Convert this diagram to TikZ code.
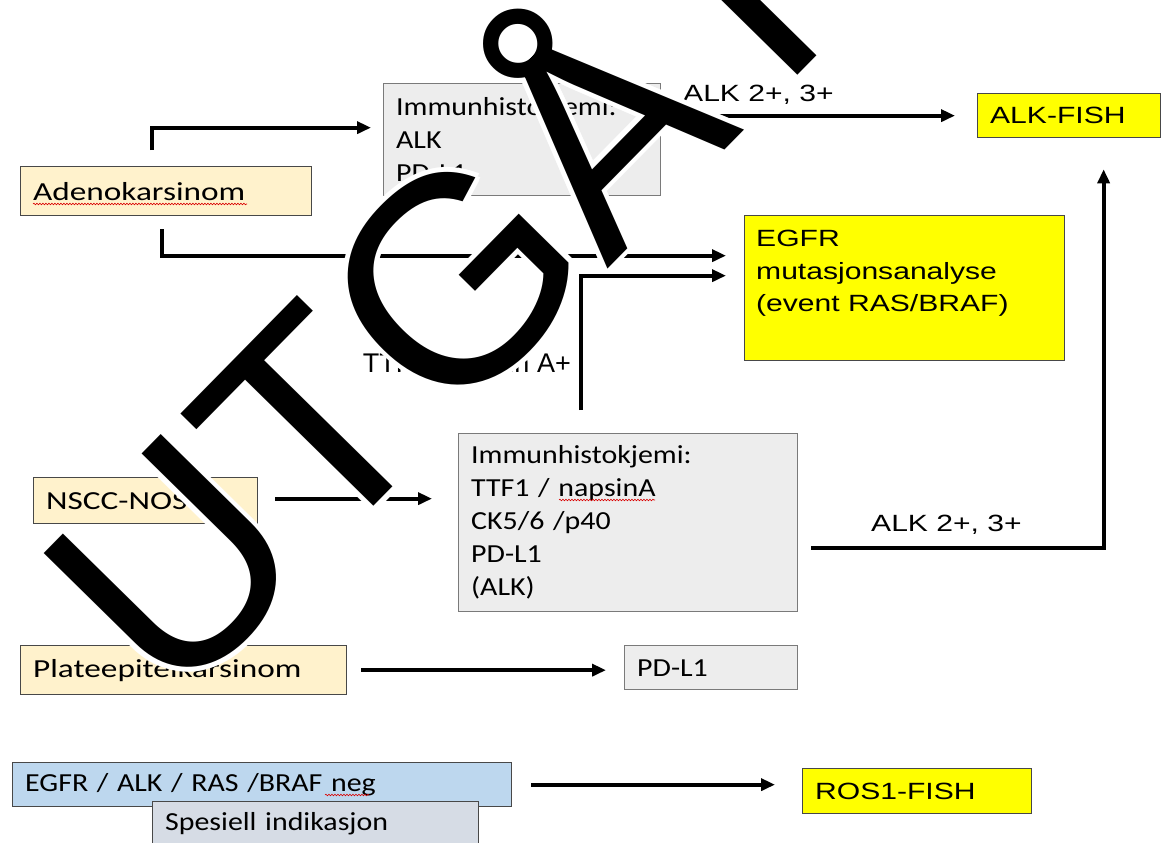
\documentclass[tikz,border=0pt]{standalone}
\usepackage{fontspec}
\setmainfont{Carlito}[FakeStretch=1.28]
\newfontfamily\kalibrismal{Carlito}[FakeStretch=1.15]
\newfontfamily\arial{Liberation Sans}[FakeStretch=1.28]
\newfontfamily\arialrett{Liberation Sans}
\usetikzlibrary{arrows.meta,calc,positioning,decorations.pathmorphing}
\definecolor{beigefyll}{HTML}{FFF2CC}
\definecolor{graafyll}{HTML}{EDEDED}
\definecolor{gulfyll}{HTML}{FFFF00}
\definecolor{blaafyll}{HTML}{BDD7EE}
\definecolor{graablaa}{HTML}{D6DCE5}
\definecolor{kant}{HTML}{484848}
\definecolor{lyskant}{HTML}{7A7A7A}
\tikzset{
    >={Triangle[length=14pt,width=12pt]},
    boks/.style={
           draw=kant, line width=1.3pt,
           anchor=north west,
           inner xsep=12.5pt, inner ysep=0pt,
           align=left},
    kalibri/.style={font=\fontsize{26}{33}\selectfont},
    kalibrigraa/.style={font=\kalibrismal\fontsize{26}{33}\selectfont},
    arialtekst/.style={font=\arial\fontsize{23.5}{32.5}\selectfont},
    etikett/.style={
           arialtekst,
           inner sep=0pt},
    pil/.style={
           ->,
           line width=3.8pt},
    bolge/.style={
           red!85!black, line width=0.6pt,
           decorate,
           decoration={snake, amplitude=0.8pt, segment length=3pt}},
    vannmerke/.style={
           font=\arialrett\fontsize{294}{294}\selectfont,
           rotate=45.5,
           anchor=base west,
           inner sep=0pt}
}

\begin{document}
\begin{tikzpicture}[x=1pt, y=-1pt]
    \path[use as bounding box] (0,0) rectangle (1168,843);
    \clip (0,0) rectangle (1168,843);
    \fill[white] (0,0) rectangle (1168,843);

    % venstre kolonne
    \node[boks, kalibri, fill=beigefyll, minimum width=291pt, minimum height=49pt, text width=266pt] (adeno) at (20,166) {Adenokarsinom};
    \node[boks, kalibri, fill=beigefyll, minimum width=224pt, minimum height=46pt, text width=199pt] (nscc) at (33,477) {NSCC-NOS};
    \node[boks, kalibri, fill=beigefyll, minimum width=326pt, minimum height=49pt, text width=301pt] (plate) at (20,645) {Plateepitelkarsinom};
    \node[boks, kalibrigraa, fill=blaafyll, minimum width=499pt, minimum height=44pt, text width=474pt] (neg) at (12,762) {EGFR / ALK / RAS /BRAF neg};
    \node[boks, kalibrigraa, fill=graablaa, minimum width=326pt, minimum height=44pt, text width=301pt] (spes) at (152,801) {Spesiell indikasjon};

    % immunhistokjemi
    \node[boks, draw=lyskant, kalibrigraa, fill=graafyll, minimum width=277pt, minimum height=112pt, text width=252pt] (immA) at (383,83) {Immunhistokjemi:\\ALK\\PD-L1};
    \node[boks, draw=lyskant, kalibrigraa, fill=graafyll, minimum width=339pt, minimum height=178pt, text width=314pt] (immB) at (458,433) {Immunhistokjemi:\\TTF1 / napsinA\\CK5/6 /p40\\PD-L1\\(ALK)};
    \node[boks, draw=lyskant, kalibrigraa, fill=graafyll, minimum width=173pt, minimum height=44pt, text width=148pt] (pdl1) at (624,645) {PD-L1};

    % analyser
    \node[boks, arialtekst, fill=gulfyll, minimum width=183pt, minimum height=44pt, text width=158pt] (alkfish) at (977,93) {ALK-FISH};
    \node[boks, fill=gulfyll, minimum width=320pt, minimum height=145pt] (egfr) at (744,215) {};
    \node[arialtekst, anchor=north west, align=left, inner sep=0pt] (egfrtekst) at ([shift={(12,15)}]egfr.north west) {EGFR\\mutasjonsanalyse\\(event RAS/BRAF)};
    \node[boks, arialtekst, fill=gulfyll, minimum width=229pt, minimum height=45pt, text width=204pt] (ros) at (802,768) {ROS1-FISH};

    % etiketter
    \node[etikett, anchor=base west] (alktopp) at (683,102) {ALK 2+, 3+};
    \node[etikett, anchor=base west] (alkbunn) at (871,531) {ALK 2+, 3+};
    \node[font=\arialrett\fontsize{27}{27}\selectfont, anchor=base east, inner sep=0pt] (ttf) at (571,372) {TTF1 / napsin A+};

    % piler
    \draw[pil] ([shift={(-14.5,-16)}]adeno.north) |- ([shift={(-12,-12)}]immA.west);
    \draw[pil] ([shift={(-4.5,13)}]adeno.south) |- ([shift={(-18,-32.5)}]egfr.west);
    \draw[pil] ([shift={(-47.5,-23)}]immB.north) |- ([shift={(-18,-12.5)}]egfr.west);
    \draw[pil] ([shift={(17,-2)}]nscc.east) -- ([shift={(-26,-24)}]immB.west);
    \draw[pil] ([shift={(4,-24)}]immA.east) -- ([shift={(-22,0)}]alkfish.west);
    \draw[pil] ([shift={(13,25)}]immB.east) -| ([shift={(34.5,31)}]alkfish.south);
    \draw[pil] ($(plate.east)+(14,0)$) -- ($(plate.east -| pdl1.west)+(-18,0)$);
    \draw[pil] ($(neg.east)+(19,0)$) -- ($(neg.east -| ros.west)+(-27,0)$);

    % stavekontroll
    \draw[bolge] ([shift={(13,38)}]adeno.north west) -- ([shift={(227,38)}]adeno.north west);
    \draw[bolge] ([shift={(101,67)}]immB.north west) -- ([shift={(197,67)}]immB.north west);
    \draw[bolge] ([shift={(313,33)}]neg.north west) -- ([shift={(357,33)}]neg.north west);

    % vannmerke
    \coordinate (wm) at (172,712);
    \foreach \v [count=\i] in {0,45,...,315}
        \node[vannmerke, text=white] (halo\i) at ($(wm)+(\v:5)$) {UTGÅTT};
    \node[vannmerke] (merke) at (wm) {UTGÅTT};
\end{tikzpicture}
\end{document}
